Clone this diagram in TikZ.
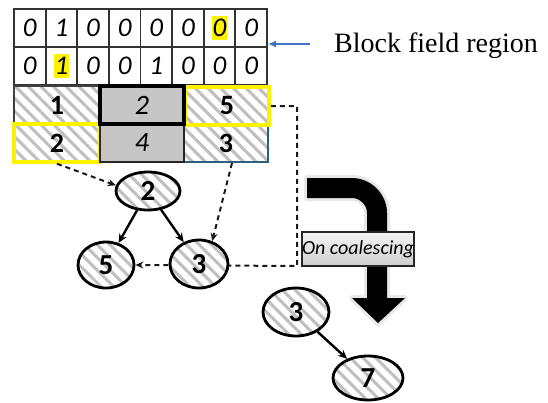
\documentclass[tikz,border=0pt]{standalone}
\usepackage{fontspec}
\setmainfont{Liberation Serif}
\setsansfont{Carlito}
\usetikzlibrary{shapes.geometric,patterns.meta,arrows.meta}

\definecolor{edgeblue}{HTML}{2F5F7F}
\definecolor{hintblue}{HTML}{4472C4}

\tikzset{
  bit/.style={font=\sffamily\itshape\fontsize{27}{27}\selectfont, inner sep=0pt},
  hit/.style={bit, fill=yellow, inner xsep=1pt, inner ysep=3.5pt},
  hatch/.style={pattern={Lines[angle=-45,distance=9pt,line width=3pt]}, pattern color=gray!50},
  blk/.style={draw=gray!50!black, line width=2pt, minimum height=38pt, minimum width=84pt, inner sep=0pt,
    font=\sffamily\bfseries\fontsize{28}{28}\selectfont},
  used/.style={blk, fill=gray!45, font=\sffamily\itshape\fontsize{28}{28}\selectfont},
  vtx/.style={ellipse, draw, line width=2.8pt, preaction={fill=white}, hatch, inner sep=0pt,
    font=\sffamily\bfseries\fontsize{29}{29}\selectfont},
  link/.style={-{Stealth[length=9pt,width=8pt]}, line width=2.4pt},
  ptr/.style={-{Stealth[length=8pt,width=7pt]}, line width=2pt, gray!20!black, dash pattern=on 5pt off 4pt},
}

\begin{document}
\begin{tikzpicture}[x=1pt,y=-1pt]
  \useasboundingbox (0,0) rectangle (548,402);

  \foreach \v/\s [count=\i] in {0/bit,1/bit,0/bit,0/bit,0/bit,0/bit,0/hit,0/bit}
    \node[\s] (r\i) at ({14+31.625*(\i-0.5)},28) {\v};
  \foreach \v/\s [count=\i] in {0/bit,1/hit,0/bit,0/bit,1/bit,0/bit,0/bit,0/bit}
    \node[\s] (s\i) at ({14+31.625*(\i-0.5)},66) {\v};
  \draw[gray!40!black, line width=1.8pt] (14,9) rectangle (267,85) (14,47) -- (267,47);
  \foreach \i in {1,...,7}
    \draw[gray!40!black, line width=1.8pt] ({14+31.625*\i},9) -- ({14+31.625*\i},85);

  \node[blk, hatch, minimum width=86pt] (b1) at (57,105) {1};
  \node[blk, hatch, draw=edgeblue] (b3) at (226,143) {3};
  \node[blk, hatch, draw=yellow, line width=3.5pt] (b5) at (227,106) {5};
  \node[blk, hatch, draw=yellow, line width=3.5pt, minimum width=86pt] (c2) at (57,143) {2};
  \node[used, draw=gray!30!black] (b4) at (142,143) {4};
  \node[used, draw=black, line width=3.5pt] (b2) at (142,105) {2};

  \node (lbl) [anchor=base west, inner sep=0pt, font=\fontsize{28}{28}\selectfont] at (334,52) {Block field region};
  \coordinate (gridE) at (268,44);
  \draw[-{Latex[length=8pt,width=7pt]}, hintblue, line width=1.2pt] ([xshift=-24pt]lbl.west |- gridE) -- (gridE);

  \node[vtx, minimum width=64pt, minimum height=38pt] (g2) at (148,191) {2};
  \node[vtx, minimum width=56pt, minimum height=46pt] (g5) at (106,265) {5};
  \coordinate (turn) at (297,266);
  \draw[ptr] (b5.east) -| (turn) -- (g5.east);
  \node[vtx, minimum width=58pt, minimum height=48pt] (g3) at (199,264) {3};
  \node[vtx, minimum width=66pt, minimum height=48pt] (h3) at (296,312) {3};
  \node[vtx, minimum width=70pt, minimum height=44pt] (h7) at (368,378) {7};

  \draw[link] (g2) to (g5); \draw[link] (g2) to (g3); \draw[link] (h3) to (h7);
  \draw[ptr] (c2.south) to (g2.170); \draw[ptr] ([xshift=6pt]b3.south) to (g3.60);

  \fill[black, preaction={draw=gray!18, line width=6pt, line join=round}]
    (307,178) -- (352,178) .. controls (371,178) and (387,194) .. (387,213)
    -- (387,298) -- (405,298) -- (378,323) -- (352,298) -- (367,298) -- (367,213)
    .. controls (367,205) and (360,198) .. (352,198) -- (307,198) -- cycle;
  \node[draw=gray!30!black, line width=1.2pt, top color=gray!8, bottom color=gray!38,
    minimum width=112pt, minimum height=34pt, inner sep=0pt,
    font=\sffamily\itshape\fontsize{20}{20}\selectfont] (coal) at (358,249) {On coalescing};
\end{tikzpicture}
\end{document}
